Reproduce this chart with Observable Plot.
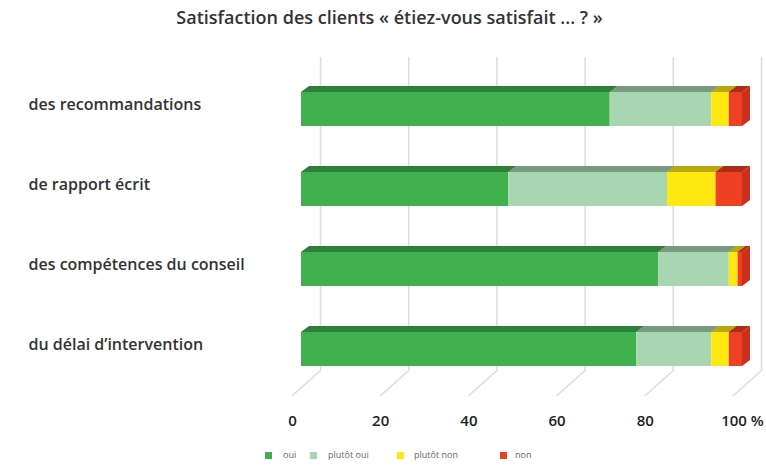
<!DOCTYPE html>
<html>
<head>
<meta charset="utf-8">
<script src="https://cdn.jsdelivr.net/npm/d3@7"></script>
<script src="https://cdn.jsdelivr.net/npm/@observablehq/plot@0.6"></script>
<style>
  html, body { margin: 0; padding: 0; background: #fff; }
  #wrap { position: relative; width: 766px; height: 467px; font-family: "Open Sans", sans-serif; }
  #legend { position: absolute; left: 0; top: 450px; width: 766px; height: 14px; }
  .sw { position: absolute; top: 2px; width: 7px; height: 7px; }
  .lb { position: absolute; top: -1px; font-size: 9px; line-height: 12px; color: #666; white-space: nowrap; }
</style>
</head>
<body>
<div id="wrap"></div>
<script>
// ---- data ----
const categories = ["des recommandations", "de rapport écrit", "des compétences du conseil", "du délai d’intervention"];
const series = ["oui", "plutôt oui", "plutôt non", "non"];
const oui       = [70, 47, 81, 76];
const plutotOui = [23, 36, 16, 17];
const plutotNon = [4, 11, 2, 4];
const non       = [3, 6, 1, 3];
const tickValues = [0, 20, 40, 60, 80, 100];
const tickLabels = ["0", "20", "40", "60", "80", "100 %"];
const title = "Satisfaction des clients « étiez-vous satisfait ... ? »";

const colors = ["#41b04e", "#a7d6b0", "#ffe812", "#ee4023"];
const values = [oui, plutotOui, plutotNon, non];

// ---- geometry helpers (pixel -> data units) ----
const ux = px => px / 4.41;   // x units per pixel
const uy = px => px / 80;     // y units per pixel (row spacing 80px)
const f = ux(9);     // bar front plane behind floor front
const d = ux(8);     // depth dx
const dd = uy(6);    // depth dy
const g = ux(28);    // back wall offset
const h = uy(17);    // half bar thickness

const segments = categories.flatMap((c, i) => {
  let acc = 0;
  return series.map((s, j) => {
    const v = values[j][i];
    const seg = {row: i, serie: s, x1: acc, x2: acc + v, id: i * 4 + j};
    acc += v;
    return seg;
  });
});

const topPts = segments.flatMap(s => [
  {id: s.id, serie: s.serie, a: s.x1 + f, b: s.x2 + f, y: s.row - h},
  {id: s.id, serie: s.serie, a: s.x1 + f + d, b: s.x2 + f + d, y: s.row - h - dd}
]);

const ends = segments.filter(s => s.serie === "non");
const sidePts = ends.flatMap(s => [
  {row: s.row, serie: s.serie, x: s.x2 + f, y1: s.row + h, y2: s.row - h},
  {row: s.row, serie: s.serie, x: s.x2 + f + d, y1: s.row + h - dd, y2: s.row - h - dd}
]);

const gridPts = tickValues.flatMap(v => [
  {v, x: v + g, y: uy(57 - 109)},
  {v, x: v + g, y: uy(370 - 109)},
  {v, x: v, y: uy(395 - 109)}
]);

const labelY = uy(421 - 109);

const chart = Plot.plot({
  width: 766,
  height: 450,
  margin: 0,
  style: {fontFamily: "Open Sans", background: "transparent", overflow: "visible"},
  x: {domain: [0, 100], range: [292, 733], axis: null},
  y: {domain: [0, 3], range: [109, 349], axis: null},
  color: {domain: series, range: colors},
  marks: [
    Plot.line(gridPts, {x: "x", y: "y", z: "v", stroke: "#dcdcdc", strokeWidth: 1.5}),
    // top faces
    Plot.areaX(topPts, {x1: "a", x2: "b", y: "y", z: "id", fill: "serie"}),
    Plot.areaX(topPts, {x1: "a", x2: "b", y: "y", z: "id", fill: "#000", fillOpacity: 0.28}),
    // side face
    Plot.areaY(sidePts, {x: "x", y1: "y1", y2: "y2", z: "row", fill: "serie"}),
    Plot.areaY(sidePts, {x: "x", y1: "y1", y2: "y2", z: "row", fill: "#600", fillOpacity: 0.25}),
    // front faces
    Plot.rect(segments, {x1: s => s.x1 + f, x2: s => s.x2 + f, y1: s => s.row - h, y2: s => s.row + h, fill: "serie"}),
    // category labels
    Plot.text(categories, {frameAnchor: "left", y: (d, i) => i, dx: 28, dy: -5, text: d => d, textAnchor: "start",
      fontSize: 16, fontWeight: 600, fill: "#333"}),
    // tick labels
    Plot.text(tickValues.slice(0, 5), {x: v => v, y: () => labelY, text: (v, i) => tickLabels[i],
      fontSize: 15, fontWeight: 600, fill: "#222"}),
    Plot.text(tickValues.slice(5), {x: v => v, y: () => labelY, text: () => tickLabels[5], dx: 9,
      fontSize: 15, fontWeight: 600, fill: "#222"}),
    // title
    Plot.text([title], {frameAnchor: "top", lineAnchor: "middle", text: d => d, dy: 18, dx: 6,
      fontSize: 18, fontWeight: 600, fill: "#333"})
  ]
});

const wrap = document.getElementById("wrap");
wrap.appendChild(chart);

// legend
const legend = document.createElement("div");
legend.id = "legend";
const swX = [265, 310, 397, 500];
const lbX = [283, 328, 414, 515];
series.forEach((s, i) => {
  const sw = document.createElement("span");
  sw.className = "sw";
  sw.style.left = swX[i] + "px";
  sw.style.background = colors[i];
  const lb = document.createElement("span");
  lb.className = "lb";
  lb.style.left = lbX[i] + "px";
  lb.textContent = s;
  legend.appendChild(sw);
  legend.appendChild(lb);
});
wrap.appendChild(legend);
</script>
</body>
</html>
